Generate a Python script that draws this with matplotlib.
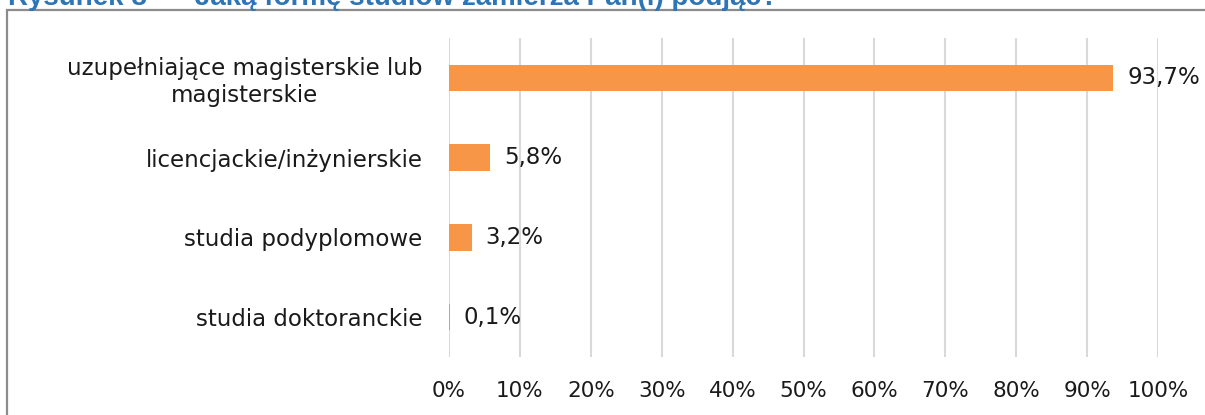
import matplotlib
matplotlib.use("Agg")
import matplotlib.pyplot as plt
from matplotlib.patches import Rectangle

categories = ["uzupełniające magisterskie lub\nmagisterskie",
              "licencjackie/inżynierskie",
              "studia podyplomowe",
              "studia doktoranckie"]
values = [93.7, 5.8, 3.2, 0.1]
value_labels = ["93,7%", "5,8%", "3,2%", "0,1%"]
xticks = [0, 10, 20, 30, 40, 50, 60, 70, 80, 90, 100]
xtick_labels = [f"{t}%" for t in xticks]

W, H = 1205, 415
fig = plt.figure(figsize=(W / 100, H / 100), dpi=100)
plt.rcParams['font.family'] = ['DejaVu Sans']

# outer frame (partially cut)
fig.patches.append(Rectangle((7 / W, -0.1), 1.2, 1 - 10 / H + 0.1,
                             transform=fig.transFigure, fill=False,
                             edgecolor="#8C8C8C", linewidth=1.6))

# title, cut at the top edge as in the reference
fig.text(8 / W, 1 - 5 / H, "Rysunek 8", color="#2E75B6", fontsize=20,
         fontweight="bold", family="Liberation Sans", va="baseline")
fig.text(195 / W, 1 - 5 / H, "Jaką formę studiów zamierza Pan(i) podjąć?",
         color="#2E75B6", fontsize=20, fontweight="bold",
         family="Liberation Sans", va="baseline")

ax = fig.add_axes([449 / W, 1 - 357 / H, (1158 - 449) / W, (357 - 38) / H])
y = list(range(len(categories)))
bars = ax.barh(y, values, height=0.33, color="#F79646", zorder=3)
ax.set_ylim(len(categories) - 0.5, -0.5)
ax.set_xlim(0, 100)
ax.set_yticks(y)
ax.set_yticklabels(categories, fontsize=16.5, color="#1A1A1A", multialignment="center")
ax.set_xticks(xticks)
ax.set_xticklabels(xtick_labels, fontsize=15.5, color="#1A1A1A")
ax.tick_params(axis="both", length=0)
ax.tick_params(axis="y", pad=19)
ax.tick_params(axis="x", pad=17)
ax.xaxis.grid(True, color="#D9D9D9", linewidth=1.5, zorder=0)
for s in ax.spines.values():
    s.set_visible(False)
ax.bar_label(bars, labels=value_labels, padding=10, fontsize=16.5, color="#1A1A1A")

fig.savefig("out.png", dpi=100)
